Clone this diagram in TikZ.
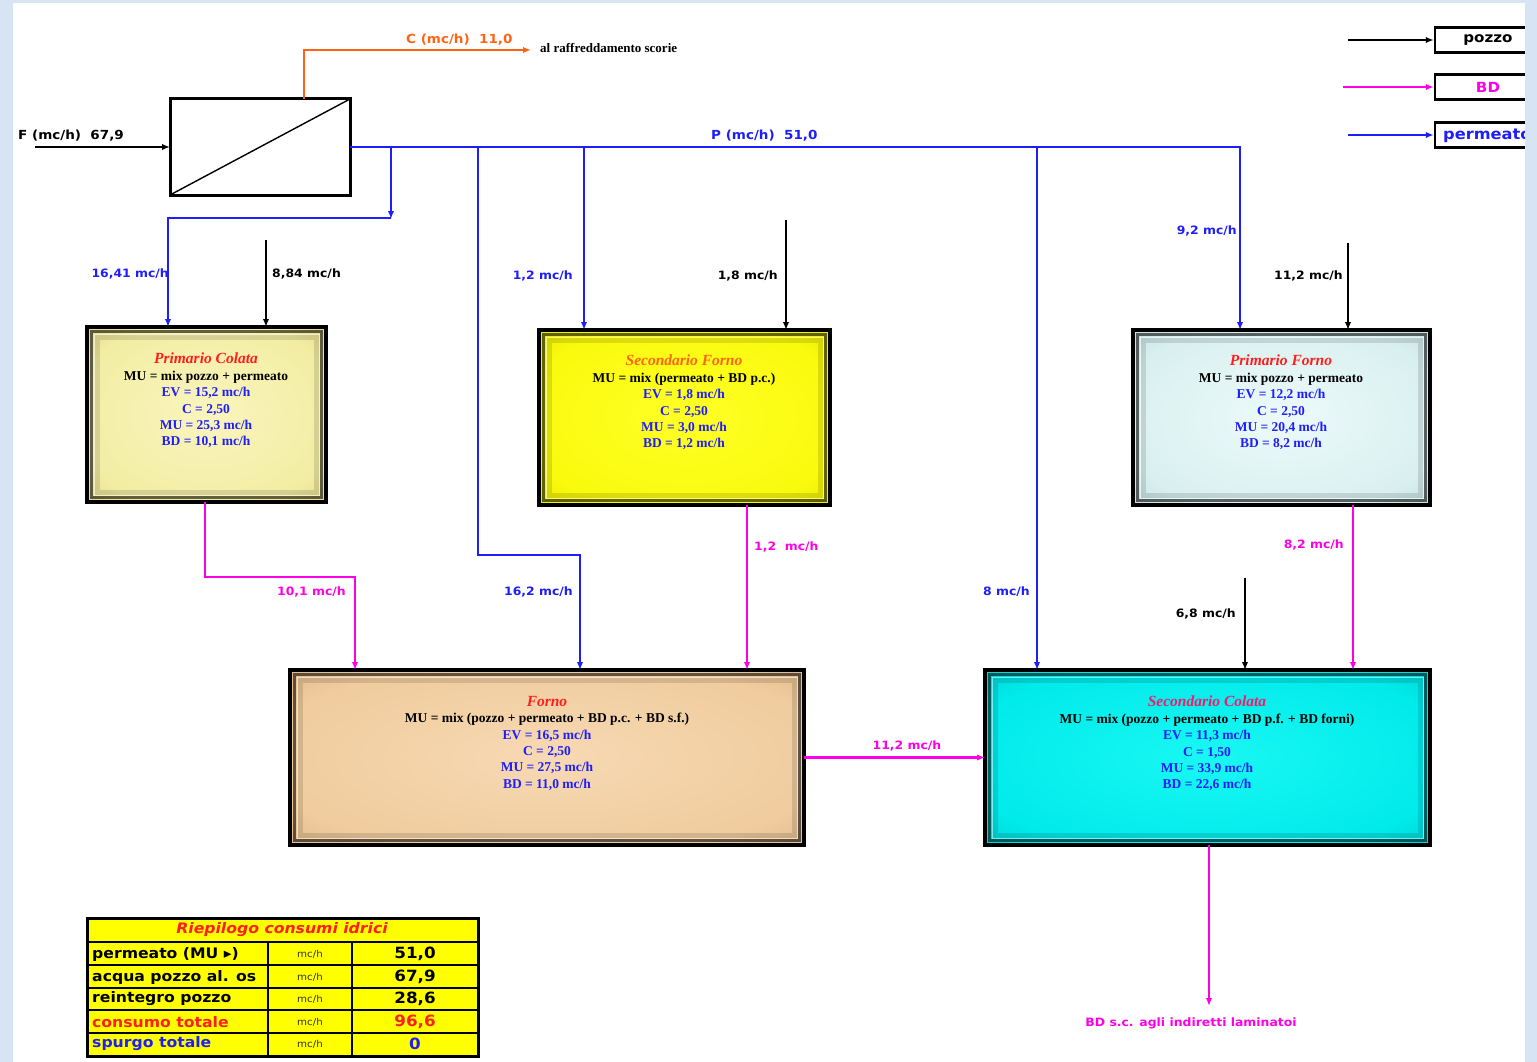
\documentclass[tikz,border=0pt]{standalone}
\usepackage{fontspec}
\setmainfont{Liberation Serif}
\newfontfamily\labf{DejaVu Sans}[FakeStretch=1.08]
\usetikzlibrary{arrows.meta}
\definecolor{pblue}{RGB}{30,30,250}
\definecolor{pmag}{RGB}{255,0,230}
\definecolor{porange}{RGB}{255,100,20}
\definecolor{pred}{RGB}{255,30,30}
\definecolor{pink}{RGB}{235,30,110}
\definecolor{frameblue}{RGB}{214,228,244}
\definecolor{tyellow}{RGB}{255,255,0}
\pgfdeclareradialshading{shpc}{\pgfpoint{0bp}{0bp}}{rgb(0bp)=(0.98,0.96,0.74); rgb(28bp)=(0.95,0.93,0.64); rgb(50bp)=(0.76,0.73,0.40); rgb(72bp)=(0.42,0.40,0.18)}
\pgfdeclareradialshading{shsf}{\pgfpoint{0bp}{0bp}}{rgb(0bp)=(1,1,0.15); rgb(28bp)=(0.98,0.98,0.05); rgb(50bp)=(0.8,0.8,0); rgb(72bp)=(0.35,0.35,0)}
\pgfdeclareradialshading{shpf}{\pgfpoint{0bp}{0bp}}{rgb(0bp)=(0.93,0.98,0.98); rgb(28bp)=(0.85,0.94,0.94); rgb(50bp)=(0.64,0.76,0.76); rgb(72bp)=(0.3,0.4,0.4)}
\pgfdeclareradialshading{shfo}{\pgfpoint{0bp}{0bp}}{rgb(0bp)=(0.97,0.85,0.70); rgb(28bp)=(0.94,0.80,0.62); rgb(50bp)=(0.76,0.61,0.43); rgb(72bp)=(0.4,0.3,0.2)}
\pgfdeclareradialshading{shsc}{\pgfpoint{0bp}{0bp}}{rgb(0bp)=(0.1,0.97,0.95); rgb(28bp)=(0,0.92,0.92); rgb(50bp)=(0,0.68,0.70); rgb(72bp)=(0,0.3,0.32)}
\newcommand\bevelbox[1]{%
 \draw[black,opacity=.6,line width=3pt] ([shift={(4.5,4.5)}]#1.north west) rectangle ([shift={(-4.5,-4.5)}]#1.south east);
 \draw[white,opacity=.45,line width=1pt] ([shift={(7,7)}]#1.north west) rectangle ([shift={(-7,-7)}]#1.south east);
 \draw[black,opacity=.12,line width=5pt] ([shift={(10,10)}]#1.north west) rectangle ([shift={(-10,-10)}]#1.south east);
}
\newcommand\bv[1]{\textcolor{pblue}{#1}}
\tikzset{
 arr/.style={-{Latex[length=8pt,width=6.5pt]}},
 bl/.style={draw=pblue,line width=2.4pt},
 bk/.style={draw=black,line width=2pt},
 mg/.style={draw=pmag,line width=2.2pt},
 og/.style={draw=porange,line width=2pt},
 flab/.style={font=\labf\bfseries\fontsize{11.5}{13}\selectfont, inner sep=1pt},
 boxtxt/.style={anchor=north, align=center, font=\bfseries\fontsize{13.5}{16.4}\selectfont, inner sep=0pt},
 pbox/.style={draw=black, line width=4.5pt, outer sep=0pt, inner sep=0pt, rectangle},
 legbox/.style={draw=black, line width=2.5pt, fill=white, minimum width=106pt, minimum height=25pt, inner sep=0pt, font=\labf\bfseries\fontsize{14}{15}\selectfont},
 tcell/.style={font=\labf\bfseries\fontsize{14.5}{16}\selectfont, inner sep=0pt},
 tnum/.style={font=\labf\bfseries\fontsize{15.5}{17}\selectfont, inner sep=0pt},
 tunit/.style={font=\labf\fontsize{9.5}{11}\selectfont, inner sep=0pt, text=black!80},
}
\newcommand\ttl[2]{{\fontsize{15.5}{16.4}\selectfont\itshape\textcolor{#1}{#2}}}
\begin{document}
\begin{tikzpicture}[x=1pt,y=-1pt]
\useasboundingbox (0,0) rectangle (1537,1062);
\fill[frameblue] (0,0) rectangle (1537,1062);
\fill[white] (13,3) rectangle (1525,1062);

% ---------- membrane unit
\node[draw, line width=3pt, fill=white, minimum width=180pt, minimum height=96pt, outer sep=0pt] (mem) at (260,147) {};
\draw[line width=1.4pt] (mem.south west) -- (mem.north east);

% ---------- process boxes
\node[pbox, shading=shpc, minimum width=239pt, minimum height=175pt] (pc) at (206.5,414.5) {};
\node[pbox, shading=shsf, minimum width=291pt, minimum height=175pt] (sf) at (684.5,417.5) {};
\node[pbox, shading=shpf, minimum width=297pt, minimum height=175pt] (pf) at (1281.5,417.5) {};
\node[pbox, shading=shfo, minimum width=514pt, minimum height=175pt] (fo) at (547,757.5) {};
\node[pbox, shading=shsc, minimum width=445pt, minimum height=175pt] (sc) at (1207.5,757.5) {};
\bevelbox{pc}\bevelbox{sf}\bevelbox{pf}\bevelbox{fo}\bevelbox{sc}

\node[boxtxt] (pcT) at (206,353) {\ttl{pred}{Primario Colata}\\
 MU = mix pozzo + permeato\\ \bv{EV = 15,2 mc/h}\\ \bv{C = 2,50}\\ \bv{MU = 25,3 mc/h}\\ \bv{BD = 10,1 mc/h}};
\node[boxtxt] (sfT) at (684,355) {\ttl{porange}{Secondario Forno}\\
 MU = mix (permeato + BD p.c.)\\ \bv{EV = 1,8 mc/h}\\ \bv{C = 2,50}\\ \bv{MU = 3,0 mc/h}\\ \bv{BD = 1,2 mc/h}};
\node[boxtxt] (pfT) at (1281,355) {\ttl{pred}{Primario Forno}\\
 MU = mix pozzo + permeato\\ \bv{EV = 12,2 mc/h}\\ \bv{C = 2,50}\\ \bv{MU = 20,4 mc/h}\\ \bv{BD = 8,2 mc/h}};
\node[boxtxt] (foT) at (547,696) {\ttl{pred}{Forno}\\
 MU = mix (pozzo + permeato + BD p.c. + BD s.f.)\\ \bv{EV = 16,5 mc/h}\\ \bv{C = 2,50}\\ \bv{MU = 27,5 mc/h}\\ \bv{BD = 11,0 mc/h}};
\node[boxtxt] (scT) at (1207,696) {\ttl{pink}{Secondario Colata}\\
 MU = mix (pozzo + permeato + BD p.f. + BD forni)\\ \bv{EV = 11,3 mc/h}\\ \bv{C = 1,50}\\ \bv{MU = 33,9 mc/h}\\ \bv{BD = 22,6 mc/h}};

% ---------- feed and concentrate
\coordinate (fin) at (35,147);
\draw[bk,arr] (fin) -- (mem.west);
\node[flab, anchor=west, font=\labf\bfseries\fontsize{12.5}{14}\selectfont] (Flab) at (17,136) {F (mc/h)\ \ 67,9};
\coordinate (cout) at (531,50);
\draw[og,arr] (mem.north -| 304,0) |- (cout);
\node[flab, anchor=west, text=porange, font=\labf\bfseries\fontsize{12.5}{14}\selectfont] (Clab) at (405,40) {C (mc/h)\ \ 11,0};
\node[font=\bfseries\fontsize{13}{14}\selectfont, anchor=west, inner sep=0pt] (Cdest) at (540,48) {al raffreddamento scorie};

% ---------- permeate distribution
\coordinate (j1) at (391,147);
\coordinate (j1b) at (391,218);
\coordinate (j2) at (478,147);
\coordinate (j3) at (584,147);
\coordinate (j4) at (1037,147);
\draw[bl,arr] (mem.east) -- (1240,147) -- (pf.north -| 1240,0);
\node[flab, anchor=west, text=pblue, font=\labf\bfseries\fontsize{12.5}{14}\selectfont] (Plab) at (710,136) {P (mc/h)\ \ 51,0};
\draw[bl,arr] (j1) -- ([yshift=-1]j1b);
\draw[bl,arr] (j1b) -| (pc.north -| 168,0);
\draw[bl,arr] (j2) -- (478,555) -| (fo.north -| 580,0);
\draw[bl,arr] (j3) -- (sf.north -| 584,0);
\draw[bl,arr] (j4) -- (sc.north -| 1037,0);

\node[flab, anchor=east, text=pblue] (l1) at (170,274) {16,41 mc/h};
\node[flab, anchor=east, text=pblue] (l2) at (574,276) {1,2 mc/h};
\node[flab, anchor=east, text=pblue] (l3) at (1238,231) {9,2 mc/h};
\node[flab, anchor=east, text=pblue] (l4) at (574,592) {16,2 mc/h};
\node[flab, anchor=east, text=pblue] (l5) at (1031,592) {8 mc/h};

% ---------- well water (pozzo)
\coordinate (w1) at (266,240);
\coordinate (w2) at (786,220);
\coordinate (w3) at (1348,243);
\coordinate (w4) at (1245,578);
\draw[bk,arr] (w1) -- (pc.north -| w1);
\draw[bk,arr] (w2) -- (sf.north -| w2);
\draw[bk,arr] (w3) -- (pf.north -| w3);
\draw[bk,arr] (w4) -- (sc.north -| w4);
\node[flab, anchor=west] (k1) at (271,274) {8,84 mc/h};
\node[flab, anchor=east] (k2) at (779,276) {1,8 mc/h};
\node[flab, anchor=east] (k3) at (1344,276) {11,2 mc/h};
\node[flab, anchor=east] (k4) at (1237,614) {6,8 mc/h};

% ---------- blow-down (BD)
\coordinate (bdout) at (1209,1006);
\draw[mg,arr] (pc.south -| 205,0) -- (205,577) -| (fo.north -| 355,0);
\draw[mg,arr] (sf.south -| 747,0) -- (fo.north -| 747,0);
\draw[mg,arr] (pf.south -| 1353,0) -- (sc.north -| 1353,0);
\draw[mg,arr] (fo.east) -- (sc.west);
\draw[mg,arr] (sc.south -| 1209,0) -- (bdout);
\node[flab, anchor=east, text=pmag] (m1) at (347,592) {10,1 mc/h};
\node[flab, anchor=west, text=pmag] (m2) at (753,547) {1,2\ \ mc/h};
\node[flab, anchor=east, text=pmag] (m3) at (1345,545) {8,2 mc/h};
\node[flab, text=pmag] (m4) at (907,746) {11,2 mc/h};
\node[flab, text=pmag] (m5) at (1191,1023) {BD s.c. agli indiretti laminatoi};

% ---------- legend
\node[legbox] (leg1) at (1488,40) {pozzo};
\node[legbox, text=pmag] (leg2) at (1488,87) {BD};
\node[legbox, text=pblue] (leg3) at (1488,135) {};
\node[anchor=west, inner sep=0pt, text=pblue, font=\labf\bfseries\fontsize{15}{16}\selectfont] (leg3T) at (1443,136) {permeato};
\coordinate (ls1) at (1348,40);
\coordinate (ls2) at (1343,87);
\coordinate (ls3) at (1348,135);
\draw[bk,arr] (ls1) -- (leg1.west);
\draw[mg,arr] (ls2) -- (leg2.west);
\draw[bl,arr] (ls3) -- (leg3.west);

% ---------- summary table
\fill[tyellow] (87,918) rectangle (478,1056);
\foreach \yy in {942,965,988,1010,1033} \draw[line width=1.5pt] (87,\yy) -- (478,\yy);
\draw[line width=1.5pt] (268,942) -- (268,1056) (352,942) -- (352,1056);
\draw[line width=3pt] (87,918) rectangle (478,1056);
\node[tcell, text=pred, font=\labf\bfseries\itshape\fontsize{14.5}{16}\selectfont] (tt) at (282,930) {Riepilogo consumi idrici};
\node[tcell, anchor=west] (r1a) at (92,954) {permeato (MU ▸)};
\begin{scope}
\clip (87,965) rectangle (267,988);
\node[tcell, anchor=west] (r2a) at (92,977) {acqua pozzo al. os};
\end{scope}
\node[tcell, anchor=west] (r3a) at (92,999) {reintegro pozzo};
\node[tcell, anchor=west, text=pred] (r4a) at (92,1022) {consumo totale};
\node[tcell, anchor=west, text=pblue] (r5a) at (92,1044) {spurgo totale};
\foreach \yy/\nm in {954/1,977/2,999/3,1022/4,1044/5} \node[tunit] (r\nm b) at (310,\yy) {mc/h};
\node[tnum] (r1c) at (415,954) {51,0};
\node[tnum] (r2c) at (415,977) {67,9};
\node[tnum] (r3c) at (415,999) {28,6};
\node[tnum, text=pred] (r4c) at (415,1022) {96,6};
\node[tnum, text=pblue] (r5c) at (415,1044) {0};

% right frame strip cuts the legend boxes
\fill[frameblue] (1525,0) rectangle (1537,1062);
\end{tikzpicture}
\end{document}
